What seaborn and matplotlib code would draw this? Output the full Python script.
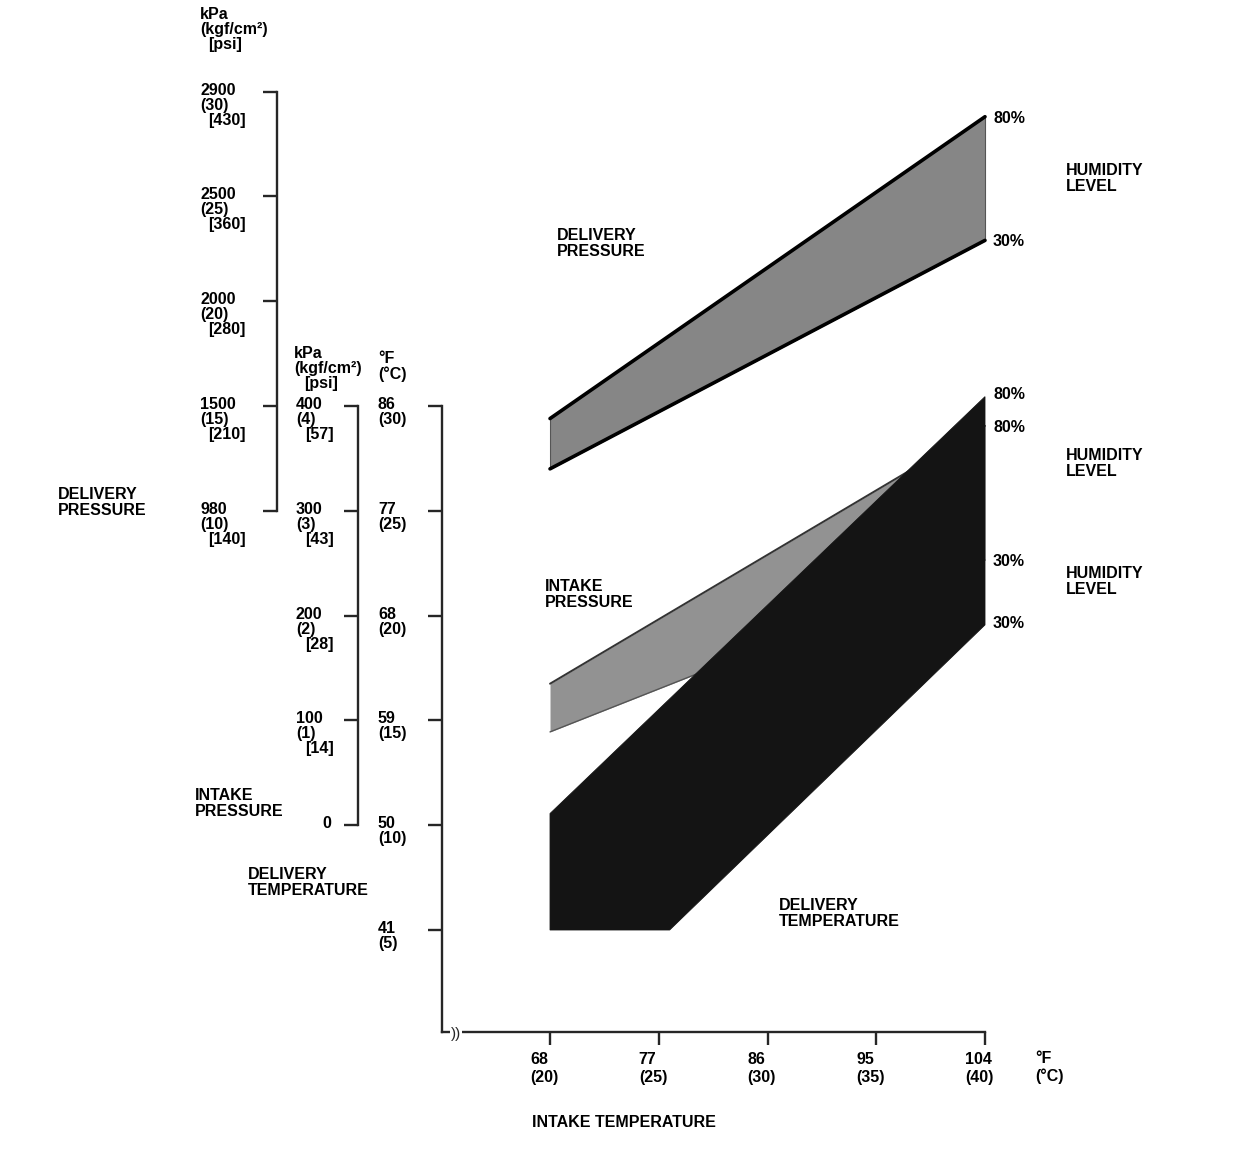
import matplotlib
matplotlib.use("Agg")
import matplotlib.pyplot as plt
import matplotlib.transforms as mtransforms
import seaborn as sns

# intake temperature (deg F) at the two ends of the bands
intake_temp = [68, 104]

# delivery pressure band, kgf/cm2
dp_hum80 = [14.4, 28.8]
dp_hum30 = [12.0, 22.9]

# intake pressure band, kPa
ip_hum80 = [135, 381]
ip_hum30 = [89, 253]

# delivery temperature band, deg F (lower edge is cut off at 41 F)
dt_upper_x = [68, 104]
dt_hum80 = [51.0, 86.8]
dt_lower_x = [68, 77.9, 104]
dt_hum30 = [41, 41, 67.2]

# scale labels
dp_kgf = [30, 25, 20, 15, 10]
dp_kpa = ["2900", "2500", "2000", "1500", "980"]
dp_psi = ["430", "360", "280", "210", "140"]

ip_kpa = [400, 300, 200, 100, 0]
ip_kgf = ["4", "3", "2", "1"]
ip_psi = ["57", "43", "28", "14"]

dt_f = [86, 77, 68, 59, 50, 41]
dt_c = [30, 25, 20, 15, 10, 5]

it_f = [68, 77, 86, 95, 104]
it_c = [20, 25, 30, 35, 40]

sns.set_style("white")
plt.rcParams["font.family"] = ["Liberation Sans", "DejaVu Sans"]
font = dict(fontsize=11.5, fontweight="bold", color="black")

W, H = 1248, 1156
fig = plt.figure(figsize=(W / 100, H / 100), dpi=100)
rect = [442 / W, (H - 1032) / H, 543 / W, (1032 - 60) / H]

# all vertical scales share the same page grid
T_LIM = (32.24, 115.71)
X_LIM = (59.06, 104)


def t_to_kgf(t):
    return 10 + (t - 77) / 1.8


def t_to_kpa(t):
    return (t - 50) / 0.09


ax_dp = fig.add_axes(rect, label="dp")
ax_ip = fig.add_axes(rect, label="ip")
ax = fig.add_axes(rect, label="dt")

ax_dp.set_ylim(t_to_kgf(T_LIM[0]), t_to_kgf(T_LIM[1]))
ax_ip.set_ylim(t_to_kpa(T_LIM[0]), t_to_kpa(T_LIM[1]))
ax.set_ylim(*T_LIM)

for a in (ax_dp, ax_ip, ax):
    a.set_xlim(*X_LIM)
    a.patch.set_visible(False)
    a.spines["top"].set_visible(False)
    a.spines["right"].set_visible(False)
    a.spines["left"].set_linewidth(1.7)
    a.tick_params(axis="y", direction="out", length=10, width=1.7, labelleft=False, left=True)
for a in (ax_dp, ax_ip):
    a.spines["bottom"].set_visible(False)
    a.tick_params(axis="x", bottom=False, labelbottom=False)

ax_dp.spines["left"].set_position(("axes", -165 / 543))
ax_dp.spines["left"].set_bounds(10, 30)
ax_dp.set_yticks(dp_kgf)

ax_ip.spines["left"].set_position(("axes", -84 / 543))
ax_ip.spines["left"].set_bounds(0, 400)
ax_ip.set_yticks(ip_kpa)

ax.spines["left"].set_bounds(T_LIM[0], 86)
ax.set_yticks(dt_f)
ax.spines["bottom"].set_linewidth(1.7)
ax.spines["bottom"].set_bounds(X_LIM[0], 104)
ax.set_xticks(it_f)
ax.tick_params(axis="x", direction="out", length=9, width=1.7, labelbottom=False, bottom=True)
ax.set_xlabel("")
ax.set_ylabel("")

# bands
ax_dp.fill_between(intake_temp, dp_hum30, dp_hum80, color="#868686", lw=0.8,
                   edgecolor="#555555", clip_on=False)
sns.lineplot(x=intake_temp, y=dp_hum80, ax=ax_dp, color="black", lw=2.6, clip_on=False)
sns.lineplot(x=intake_temp, y=dp_hum30, ax=ax_dp, color="black", lw=2.6, clip_on=False)

ax_ip.fill_between(intake_temp, ip_hum30, ip_hum80, color="#929292", lw=0, clip_on=False)
sns.lineplot(x=intake_temp, y=ip_hum80, ax=ax_ip, color="#333333", lw=1.4, clip_on=False)
sns.lineplot(x=intake_temp, y=ip_hum30, ax=ax_ip, color="#555555", lw=1.0, clip_on=False)

ax.fill(dt_upper_x + dt_lower_x[::-1], dt_hum80 + dt_hum30[::-1],
        color="#141414", lw=0.6, clip_on=False)

for a in (ax_dp, ax_ip, ax):
    if a.get_legend() is not None:
        a.get_legend().remove()

# humidity end labels
for a, y, txt, dy in [(ax_dp, dp_hum80[-1], "80%", 0), (ax_dp, dp_hum30[-1], "30%", 0),
                      (ax, dt_hum80[-1], "80%", 4), (ax_ip, ip_hum80[-1], "80%", 0),
                      (ax_ip, ip_hum30[-1], "30%", 0), (ax, dt_hum30[-1], "30%", 3)]:
    a.annotate(txt, xy=(104, y), xytext=(8, dy), textcoords="offset pixels",
               ha="left", va="center_baseline", **font)


def axis_stack(a, x_px, yval, lines, indents, dy=15, up=3):
    base = mtransforms.blended_transform_factory(fig.transFigure, a.transData)
    for i, (txt, ind) in enumerate(zip(lines, indents)):
        tr = mtransforms.offset_copy(base, fig=fig, x=ind, y=up - dy * i, units="dots")
        a.text(x_px / W, yval, txt, transform=tr, ha="left", va="center_baseline", **font)


def page_stack(x_px, y_px, lines, indents=None, dy=15):
    indents = indents or [0] * len(lines)
    for i, (txt, ind) in enumerate(zip(lines, indents)):
        fig.text((x_px + ind) / W, 1 - (y_px + dy * i) / H, txt,
                 ha="left", va="center_baseline", **font)


# scale tick labels
for k, kp, ps in zip(dp_kgf, dp_kpa, dp_psi):
    axis_stack(ax_dp, 200, k, [kp, f"({k})", f"[{ps}]"], [0, 0, 8])
for p, kg, ps in zip(ip_kpa[:-1], ip_kgf, ip_psi):
    axis_stack(ax_ip, 296, p, [str(p), f"({kg})", f"[{ps}]"], [0, 0, 9])
axis_stack(ax_ip, 322, ip_kpa[-1], ["0"], [0])
for f, c in zip(dt_f, dt_c):
    axis_stack(ax, 378, f, [str(f), f"({c})"], [0, 0])

xbase = mtransforms.blended_transform_factory(ax.transData, fig.transFigure)
for f, c in zip(it_f, it_c):
    for i, txt in enumerate([str(f), f"({c})"]):
        tr = mtransforms.offset_copy(xbase, fig=fig, x=-20, y=-18 * i, units="dots")
        ax.text(f, 1 - 1058 / H, txt, transform=tr, ha="left", va="center_baseline", **font)

# unit headers
page_stack(200, 13, ["kPa", "(kgf/cm²)", "[psi]"], [0, 0, 8])
page_stack(294, 352, ["kPa", "(kgf/cm²)", "[psi]"], [0, 0, 10])
page_stack(378, 357, ["°F", "(°C)"], dy=16)
page_stack(1035, 1057, ["°F", "(°C)"], dy=18)

# axis titles and band names
page_stack(58, 493, ["DELIVERY", "PRESSURE"], dy=16)
page_stack(195, 794, ["INTAKE", "PRESSURE"], dy=16)
page_stack(248, 873, ["DELIVERY", "TEMPERATURE"], dy=16)
page_stack(532, 1121, ["INTAKE TEMPERATURE"])
page_stack(557, 234, ["DELIVERY", "PRESSURE"], dy=16)
page_stack(545, 585, ["INTAKE", "PRESSURE"], dy=16)
page_stack(779, 904, ["DELIVERY", "TEMPERATURE"], dy=16)
page_stack(1066, 169, ["HUMIDITY", "LEVEL"], dy=16)
page_stack(1066, 454, ["HUMIDITY", "LEVEL"], dy=16)
page_stack(1066, 572, ["HUMIDITY", "LEVEL"], dy=16)

# axis break mark
fig.text(456 / W, 1 - 1034 / H, "))", fontsize=11, ha="center", va="center",
         bbox=dict(fc="white", ec="none", pad=0.6))

fig.savefig("out.png", dpi=100)
